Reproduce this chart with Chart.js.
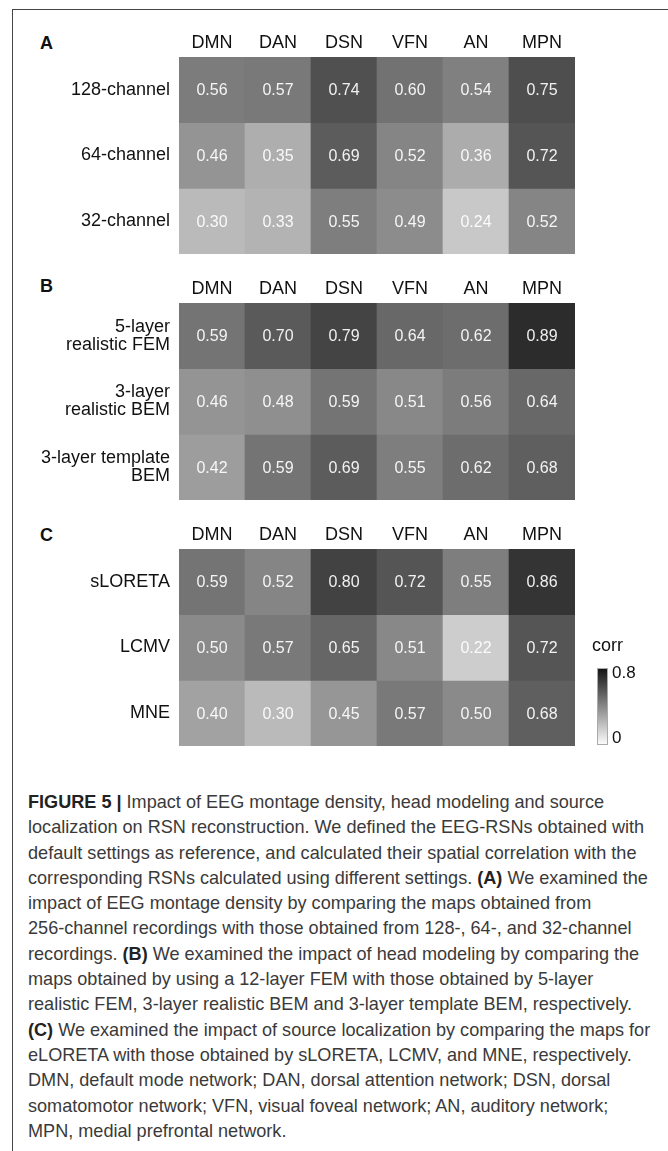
<!DOCTYPE html>
<html>
<head>
<meta charset="utf-8">
<script src="https://cdn.jsdelivr.net/npm/chart.js@4.4.1/dist/chart.umd.min.js"></script>
<style>
  html, body { margin: 0; padding: 0; background: #fff; }
  body { width: 668px; height: 1151px; position: relative; overflow: hidden; font-family: "Liberation Sans", Arial, sans-serif; }
  #frame { position: absolute; left: 12px; top: 9px; width: 720px; height: 1200px; border-left: 1px solid #444; border-top: 1px solid #444; }
  canvas { position: absolute; left: 0; }
  .letter { position: absolute; left: 40px; font-weight: bold; font-size: 18px; line-height: 18px; color: #111; }
  #caption { position: absolute; left: 28px; top: 790px; font-size: 18.1px; line-height: 25.3px; color: #3a3a3a; white-space: nowrap; }
  #caption b { color: #222; }
</style>
</head>
<body>
<div id="frame"></div>
<div class="letter" style="top:34px">A</div>
<div class="letter" style="top:277px">B</div>
<div class="letter" style="top:526px">C</div>
<canvas id="chartA" width="668" height="262" style="top:0px"></canvas>
<canvas id="chartB" width="668" height="262" style="top:246px"></canvas>
<canvas id="chartC" width="668" height="262" style="top:492px"></canvas>
<div id="caption">
<div><b>FIGURE 5 |</b> Impact of EEG montage density, head modeling and source</div>
<div>localization on RSN reconstruction. We defined the EEG-RSNs obtained with</div>
<div>default settings as reference, and calculated their spatial correlation with the</div>
<div>corresponding RSNs calculated using different settings. <b>(A)</b> We examined the</div>
<div>impact of EEG montage density by comparing the maps obtained from</div>
<div>256-channel recordings with those obtained from 128-, 64-, and 32-channel</div>
<div>recordings. <b>(B)</b> We examined the impact of head modeling by comparing the</div>
<div>maps obtained by using a 12-layer FEM with those obtained by 5-layer</div>
<div>realistic FEM, 3-layer realistic BEM and 3-layer template BEM, respectively.</div>
<div><b>(C)</b> We examined the impact of source localization by comparing the maps for</div>
<div>eLORETA with those obtained by sLORETA, LCMV, and MNE, respectively.</div>
<div>DMN, default mode network; DAN, dorsal attention network; DSN, dorsal</div>
<div>somatomotor network; VFN, visual foveal network; AN, auditory network;</div>
<div>MPN, medial prefrontal network.</div>
</div>
<script>
const networks = ["DMN", "DAN", "DSN", "VFN", "AN", "MPN"];

// panel A: montage density
const rowsA = ["128-channel", "64-channel", "32-channel"];
const valuesA = [
  [0.56, 0.57, 0.74, 0.60, 0.54, 0.75],
  [0.46, 0.35, 0.69, 0.52, 0.36, 0.72],
  [0.30, 0.33, 0.55, 0.49, 0.24, 0.52],
];

// panel B: head model
const rowsB = [["5-layer", "realistic FEM"], ["3-layer", "realistic BEM"], ["3-layer template", "BEM"]];
const valuesB = [
  [0.59, 0.70, 0.79, 0.64, 0.62, 0.89],
  [0.46, 0.48, 0.59, 0.51, 0.56, 0.64],
  [0.42, 0.59, 0.69, 0.55, 0.62, 0.68],
];

// panel C: inverse method
const rowsC = ["sLORETA", "LCMV", "MNE"];
const valuesC = [
  [0.59, 0.52, 0.80, 0.72, 0.55, 0.86],
  [0.50, 0.57, 0.65, 0.51, 0.22, 0.72],
  [0.40, 0.30, 0.45, 0.57, 0.50, 0.68],
];

const legendTicks = [0, 0.8];
const FONT = '"Liberation Sans", Arial, sans-serif';

function gray(v) {
  const g = Math.max(0, Math.min(255, Math.round(258 - 240 * v)));
  return `rgb(${g},${g},${g})`;
}

const cellText = {
  id: "cellText",
  afterDatasetsDraw(chart) {
    const ctx = chart.ctx;
    ctx.save();
    ctx.fillStyle = "rgba(255,255,255,0.92)";
    ctx.font = "16px " + FONT;
    ctx.textAlign = "center";
    ctx.textBaseline = "middle";
    chart.data.datasets.forEach((ds, di) => {
      chart.getDatasetMeta(di).data.forEach((bar, i) => {
        ctx.fillText(ds.values[i].toFixed(2), bar.x, (bar.y + bar.base) / 2 + 1);
      });
    });
    ctx.restore();
  }
};

// colour bar on the right of panel C
const colorBar = {
  id: "colorBar",
  afterDraw(chart) {
    const ctx = chart.ctx;
    const area = chart.chartArea;
    const x = area.right + 23;
    const top = area.top + 120, bottom = area.bottom - 2;
    const y0 = area.bottom - 8, y1 = area.top + 124; // positions of 0 and 0.8
    ctx.save();
    const grad = ctx.createLinearGradient(0, bottom, 0, top);
    grad.addColorStop(0, "#fbfbfb");
    grad.addColorStop(1, "#151515");
    ctx.fillStyle = grad;
    ctx.fillRect(x, top, 9, bottom - top);
    ctx.strokeStyle = "#aaa";
    ctx.lineWidth = 1;
    ctx.strokeRect(x - 0.5, top - 0.5, 10, bottom - top + 1);
    ctx.fillStyle = "#111";
    ctx.textBaseline = "middle";
    ctx.textAlign = "left";
    ctx.font = "18px " + FONT;
    ctx.fillText("corr", x - 6, area.top + 97);
    ctx.font = "17px " + FONT;
    legendTicks.forEach((t) => {
      const y = y0 + (y1 - y0) * (t / legendTicks[legendTicks.length - 1]);
      ctx.fillText(String(t), x + 14, y);
    });
    ctx.restore();
  }
};

function makeHeatmap(id, rowLabels, values, extra) {
  const datasets = values.map((row, r) => ({
    label: Array.isArray(rowLabels[r]) ? rowLabels[r].join(" ") : rowLabels[r],
    data: row.map(() => 1),
    values: row,
    backgroundColor: row.map(gray),
    borderWidth: 0,
    barPercentage: 1,
    categoryPercentage: 1,
  }));
  return new Chart(document.getElementById(id), {
    type: "bar",
    data: { labels: networks, datasets },
    options: {
      responsive: false,
      animation: false,
      layout: { padding: { left: 0, right: 93, top: 0, bottom: 8 } },
      plugins: { legend: { display: false }, tooltip: { enabled: false } },
      scales: {
        x: {
          position: "top",
          stacked: true,
          grid: { display: false, drawTicks: false },
          border: { display: false },
          ticks: { color: "#111", font: { size: 18, family: FONT }, padding: 3, maxRotation: 0 },
          afterFit: (s) => { s.height = 57; s.paddingLeft = 0; s.paddingRight = 0; },
        },
        y: {
          stacked: true,
          reverse: true,
          min: 0,
          max: rowLabels.length,
          grid: { display: false, drawTicks: false },
          border: { display: false },
          afterBuildTicks: (s) => { s.ticks = rowLabels.map((_, i) => ({ value: i + 0.5 })); },
          ticks: {
            autoSkip: false,
            color: "#111",
            font: { size: 18, family: FONT, lineHeight: 1.0 },
            padding: 9,
            callback: (v, i) => rowLabels[i],
          },
          afterFit: (s) => { s.width = 179; s.paddingTop = 0; s.paddingBottom = 0; },
        },
      },
    },
    plugins: extra ? [cellText, extra] : [cellText],
  });
}

makeHeatmap("chartA", rowsA, valuesA);
makeHeatmap("chartB", rowsB, valuesB);
makeHeatmap("chartC", rowsC, valuesC, colorBar);
</script>
</body>
</html>
